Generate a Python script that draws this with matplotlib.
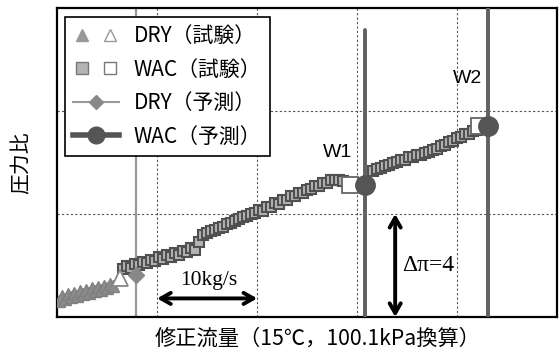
import matplotlib.pyplot as plt
from matplotlib.lines import Line2D
from matplotlib.legend_handler import HandlerTuple

plt.rcParams['font.family'] = ['Noto Sans CJK JP', 'DejaVu Sans']

# 試験データ DRY（塗りつぶし三角）
dry_x = [0.2, 0.5, 0.8, 1.1, 1.4, 1.7, 2.0, 2.3, 2.6, 2.9, 3.2, 3.5, 3.8,
         4.1, 4.4, 4.7, 5.0, 5.3, 5.6]
dry_y = [0.62, 0.80, 0.70, 0.88, 0.76, 0.94, 0.82, 1.00, 0.88, 1.06, 0.94,
         1.12, 1.00, 1.18, 1.06, 1.22, 1.12, 1.28, 1.22]

# 試験データ WAC（W1まで / W1以降）
wac1_x = [6.6, 7.0, 7.4, 7.8, 8.2, 8.6, 9.0, 9.4, 9.8, 10.2, 10.6, 11.0,
          11.4, 11.8, 12.2, 12.6, 13.0, 13.4, 13.8, 14.2, 14.6, 15.0, 15.4,
          15.8, 16.2, 16.6, 17.0, 17.4, 17.8, 18.2, 18.6, 19.0, 19.4, 19.8,
          20.2, 20.6, 21.0, 21.4, 21.8, 22.2, 22.6, 23.0, 23.4, 23.8, 24.2,
          24.6, 25.0, 25.4, 25.8, 26.2, 26.6, 27.0, 27.4, 27.8, 28.2, 28.6]
wac1_y = [1.86, 1.98, 1.92, 2.06, 2.00, 2.13, 2.08, 2.21, 2.16, 2.31, 2.25,
          2.39, 2.34, 2.48, 2.42, 2.58, 2.52, 2.67, 2.60, 2.92, 3.18, 3.25,
          3.34, 3.37, 3.46, 3.50, 3.60, 3.64, 3.74, 3.80, 3.88, 3.92, 4.00,
          4.05, 4.14, 4.12, 4.26, 4.26, 4.42, 4.40, 4.54, 4.54, 4.68, 4.68,
          4.82, 4.82, 4.94, 4.96, 5.08, 5.10, 5.20, 5.22, 5.30, 5.30, 5.33,
          5.28]
wac2_x = [31.6, 32.0, 32.4, 32.8, 33.2, 33.6, 34.0, 34.4, 34.8, 35.2, 35.6,
          36.0, 36.4, 36.8, 37.2, 37.6, 38.0, 38.4, 38.8, 39.2, 39.6, 40.0,
          40.4, 40.8, 41.2, 41.6, 42.0]
wac2_y = [5.65, 5.76, 5.78, 5.88, 5.90, 5.99, 6.00, 6.10, 6.10, 6.20, 6.20,
          6.29, 6.30, 6.38, 6.40, 6.49, 6.52, 6.64, 6.68, 6.80, 6.84, 6.96,
          6.98, 7.09, 7.12, 7.24, 7.27]

# サージ点（試験, 白抜き）
dry_surge = (6.3, 1.52)
wac_surge_x = [29.3, 42.2]
wac_surge_y = [5.14, 7.40]

# 予測値
dry_pred = (7.9, 1.62)
wac_pred_x = [30.8, 43.1]
wac_pred_y = [5.14, 7.40]
w1_top = 11.14

XMAX, YMAX = 50, 12

fig = plt.figure(figsize=(5.6, 3.61), dpi=100)
ax = fig.add_axes([0.102, 0.122, 0.893, 0.856])
ax.set_xlim(0, XMAX)
ax.set_ylim(0, YMAX)
ax.set_xticks([10, 20, 30, 40])
ax.set_yticks([4, 8])
ax.tick_params(length=0, labelbottom=False, labelleft=False)
ax.grid(True, color='#555555', linestyle=(0, (2, 2)), linewidth=0.8)
for s in ax.spines.values():
    s.set_linewidth(1.6)

# 予測線
ax.axvline(dry_pred[0], color='#999999', lw=1.6, zorder=2)
ax.plot([wac_pred_x[0]] * 2, [0, w1_top], color='#606060', lw=2.8,
        solid_capstyle='round', zorder=4)
ax.axvline(wac_pred_x[1], color='#606060', lw=2.8, zorder=4)

# 試験データ
ax.plot(dry_x, dry_y, ls='none', marker='^', ms=8, mfc='#8c8c8c',
        mec='#808080', mew=1, zorder=3)
ax.plot(wac1_x, wac1_y, ls='none', marker='s', ms=6.5, mfc='#b4b4b4',
        mec='#505050', mew=1.5, zorder=3)
ax.plot(wac2_x, wac2_y, ls='none', marker='s', ms=6.5, mfc='#b4b4b4',
        mec='#505050', mew=1.5, zorder=3)
ax.plot(*dry_surge, ls='none', marker='^', ms=12, mfc='white',
        mec='#888888', mew=1.3, zorder=5)
ax.plot(wac_surge_x, wac_surge_y, ls='none', marker='s', ms=11, mfc='white',
        mec='#666666', mew=1.3, zorder=5)

# 予測点
ax.plot(*dry_pred, ls='none', marker='D', ms=8.5, mfc='#888888',
        mec='#888888', zorder=6)
ax.plot(wac_pred_x, wac_pred_y, ls='none', marker='o', ms=14,
        mfc='#555555', mec='#555555', zorder=6)

ax.text(28.0, 6.4, 'W1', fontsize=14, ha='center', va='center',
        family=['Liberation Sans', 'DejaVu Sans'])
ax.text(41.0, 9.25, 'W2', fontsize=14, ha='center', va='center',
        family=['Liberation Sans', 'DejaVu Sans'])

# 寸法矢印
arrow = dict(arrowstyle='<->,head_length=0.7,head_width=0.4', lw=2.8,
             color='black', shrinkA=0, shrinkB=0)
ax.annotate('', xy=(10, 0.72), xytext=(20, 0.72), arrowprops=arrow)
ax.text(15.2, 1.40, '10kg/s', fontsize=15.5, ha='center', va='center',
        family=['Liberation Serif', 'DejaVu Serif'])
ax.annotate('', xy=(33.8, 4), xytext=(33.8, 0), arrowprops=arrow)
ax.text(37.1, 1.98, 'Δπ=4', fontsize=17, ha='center', va='center',
        family=['Liberation Serif', 'DejaVu Serif'])

# 凡例
h_dry_t = (Line2D([], [], ls='none', marker='^', ms=9, mfc='#999999', mec='#999999'),
           Line2D([], [], ls='none', marker='^', ms=9, mfc='white', mec='#999999'))
h_wac_t = (Line2D([], [], ls='none', marker='s', ms=8.5, mfc='#b4b4b4', mec='#777777'),
           Line2D([], [], ls='none', marker='s', ms=8.5, mfc='white', mec='#777777'))
h_dry_p = Line2D([], [], color='#999999', lw=1.5, marker='D', ms=7,
                 mfc='#888888', mec='#888888')
h_wac_p = Line2D([], [], color='#555555', lw=4, marker='o', ms=12,
                 mfc='#555555', mec='#555555')
leg = ax.legend([h_dry_t, h_wac_t, h_dry_p, h_wac_p],
                ['DRY（試験）', 'WAC（試験）', 'DRY（予測）', 'WAC（予測）'],
                handler_map={tuple: HandlerTuple(ndivide=None, pad=0.5)},
                loc='upper left', bbox_to_anchor=(0.016, 0.971),
                fontsize=15, handlelength=2.2, handletextpad=0.7,
                labelspacing=0.55, borderpad=0.4, borderaxespad=0,
                fancybox=False, framealpha=1, edgecolor='black')
leg.get_frame().set_linewidth(1.2)

ax.set_ylabel('圧力比', fontsize=15, labelpad=18)
fig.text(0.568, 0.062, '修正流量（15℃，100.1kPa換算）', fontsize=15.3,
         ha='center', va='center')

fig.savefig('out.png', dpi=100)
